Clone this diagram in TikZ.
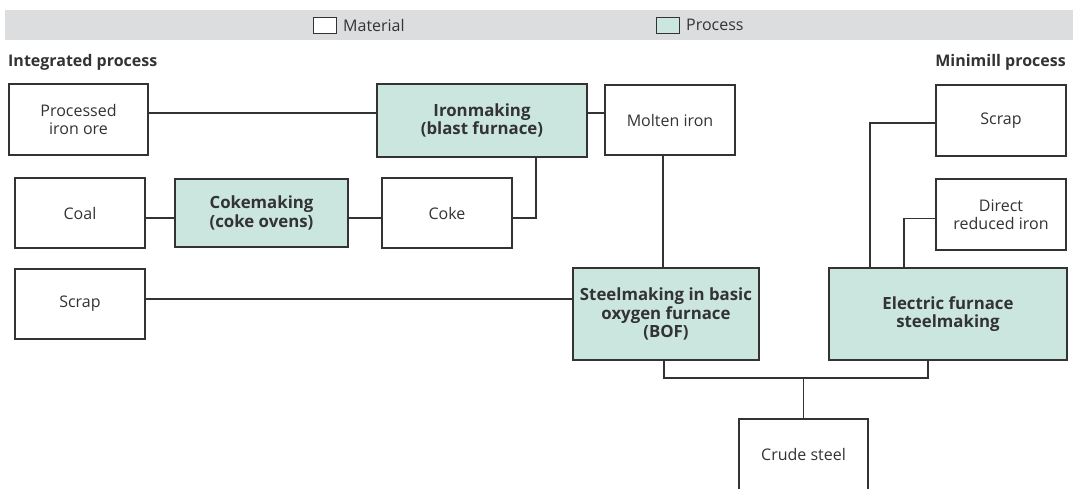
\documentclass[tikz,border=0pt]{standalone}
\usepackage{fontspec}
\setmainfont{Open Sans}
\usetikzlibrary{calc}
\definecolor{ink}{HTML}{333333}
\definecolor{procfill}{HTML}{CAE6DE}
\definecolor{bandgray}{HTML}{DCDDDF}
\begin{document}
\begin{tikzpicture}[x=1pt,y=-1pt,
  every node/.style={text=ink, font=\fontsize{16}{18.5}\selectfont},
  box/.style={draw=ink, line width=1.2pt, inner sep=0pt, outer sep=0pt, align=center},
  material/.style={box, fill=white},
  process/.style={box, fill=procfill, font=\fontsize{16.8}{18.5}\selectfont\bfseries},
  link/.style={draw=ink, line width=1.2pt},
  heading/.style={font=\fontsize{16}{18.5}\selectfont\bfseries, inner sep=0pt},
  keybox/.style={draw=ink, line width=1pt, minimum width=23pt, minimum height=16pt, inner sep=0pt}]
\useasboundingbox (0,0) rectangle (1073,488);

% legend band
\fill[bandgray] (5,10) rectangle (1073,40);
\node[keybox, fill=white] (keymat) at (324.5,25) {};
\node[anchor=west, inner sep=0pt] (keymattext) at (343,25) {Material};
\node[keybox, fill=procfill] (keyproc) at (667.5,25) {};
\node[anchor=west, inner sep=0pt] (keyproctext) at (686,25) {Process};

% section headings
\node[heading, anchor=west] (hint) at (8,62) {Integrated process};
\node[heading, anchor=east] (hmini) at (1066,62) {Minimill process};

% integrated route
\node[material, minimum width=139pt, minimum height=71pt] (ore) at (78.5,119.5) {Processed\\iron ore};
\node[process, minimum width=210pt, minimum height=73pt] (iron) at (482,120.5) {Ironmaking\\(blast furnace)};
\node[material, minimum width=130pt, minimum height=70pt] (molten) at (670,120) {Molten iron};
\node[material, minimum width=130pt, minimum height=70pt] (coal) at (80,213) {Coal};
\node[process, minimum width=173pt, minimum height=68pt] (coking) at (261.5,213) {Cokemaking\\(coke ovens)};
\node[material, minimum width=130pt, minimum height=70pt] (coke) at (447,213) {Coke};
\node[material, minimum width=130pt, minimum height=70pt] (scrapA) at (80,304) {Scrap};
\node[process, minimum width=186pt, minimum height=92pt] (bof) at (666,314) {Steelmaking in basic\\oxygen furnace\\(BOF)};

% minimill route
\node[material, minimum width=130pt, minimum height=71pt] (scrapB) at (1001,120.5) {Scrap};
\node[material, minimum width=130pt, minimum height=71pt] (dri) at (1001,214.5) {Direct\\reduced iron};
\node[process, minimum width=238pt, minimum height=92pt] (eaf) at (948,314) {Electric furnace\\steelmaking};

% product (bottom edge runs past the page)
\node[material, minimum width=129pt, minimum height=74pt, anchor=north] (crude) at (803.5,419) {};
\node (crudetext) at (803.5,454) {Crude steel};

% connectors
\draw[link] ([yshift=6.5pt]ore.east) -- ([yshift=6.5pt]ore.east -| iron.west);
\draw[link] ([yshift=7.5pt]iron.east) -- ([yshift=7.5pt]iron.east -| molten.west);
\draw[link] ([yshift=-5pt]coal.east) -- ([yshift=-5pt]coal.east -| coking.west);
\draw[link] ([yshift=-5pt]coking.east) -- ([yshift=-5pt]coking.east -| coke.west);
\draw[link] ([yshift=-5pt]coke.east) -| ([xshift=54pt]iron.south);
\draw[link] ([xshift=-7pt]molten.south) -- ([xshift=-7pt]molten.south |- bof.north);
\draw[link] ([yshift=5pt]scrapA.east) -- ([yshift=5pt]scrapA.east -| bof.west);
\draw[link] ([yshift=-2.5pt]scrapB.west) -| ([xshift=-78pt]eaf.north);
\draw[link] ([yshift=-4pt]dri.west) -| ([xshift=-44pt]eaf.north);
\coordinate (join) at ($(crude.north)+(0,-41)$);
\draw[link] ([xshift=-2pt]bof.south) |- (join);
\draw[link] ([xshift=-20pt]eaf.south) |- (join);
\draw[link] (join) -- (crude.north);
\end{tikzpicture}
\end{document}
